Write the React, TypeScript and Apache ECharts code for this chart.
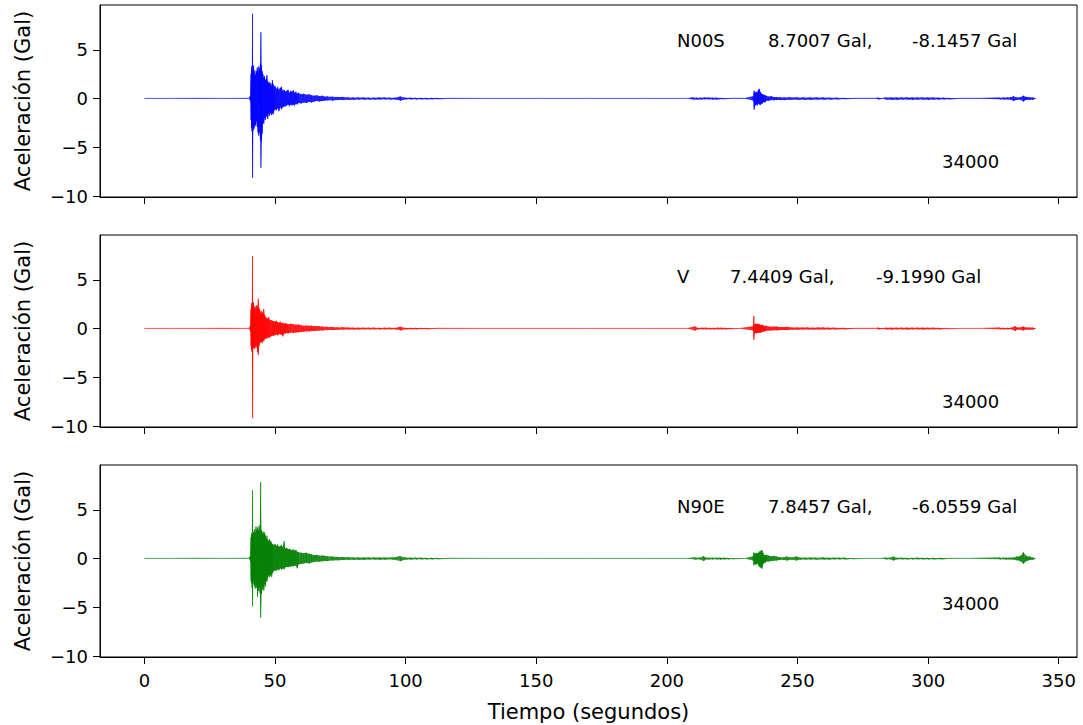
import React, { useEffect, useRef } from "react";
import * as echarts from "echarts";

type Env = [number, number, number][]; // [time (s), upper peak, lower peak] read from the record

const X_TICKS = [0, 50, 100, 150, 200, 250, 300, 350];
const Y_TICKS = [-10, -5, 0, 5];
const X_MIN = -17;
const X_MAX = 357;
const Y_MIN = -10.094;
const Y_MAX = 9.596;

const COMPONENTS = ["N00S", "V", "N90E"];
const PEAK_MAX = ["8.7007 Gal,", "7.4409 Gal,", "7.8457 Gal,"];
const PEAK_MIN = ["-8.1457 Gal", "-9.1990 Gal", "-6.0559 Gal"];
const STATION = ["34000", "34000", "34000"];
const COLORS = ["#0000ff", "#ff0000", "#008000"];

const N00S_ENV: Env = [
  [0, 0.02, -0.02], [10, 0.02, -0.02], [20, 0.03, -0.02], [30, 0.02, -0.03], [40, 0.03, -0.03],
  [40.6, 0.3, -0.3], [40.8, 2.5, -2.2], [41.0, 3.3, -3.0], [41.2, 2.8, -3.4], [41.4, 8.7007, -8.1457],
  [41.6, 3.0, -3.3], [41.8, 3.4, -2.9], [42.0, 2.6, -3.1], [42.3, 2.9, -2.6], [42.6, 2.4, -2.8],
  [42.9, 2.8, -2.3], [43.2, 3.2, -2.9], [43.5, 2.7, -3.5], [43.8, 3.3, -3.8], [44.1, 3.0, -3.4],
  [44.4, 3.6, -4.2], [44.6, 6.8, -7.1], [44.8, 3.4, -4.4], [45.1, 2.8, -3.6], [45.4, 2.5, -2.4],
  [45.7, 2.1, -2.6], [46.0, 2.3, -2.0], [46.3, 1.9, -2.2], [46.6, 2.0, -1.7], [46.9, 2.4, -1.9],
  [47.2, 1.8, -2.1], [47.5, 1.6, -1.5], [47.8, 1.7, -1.8], [48.1, 1.4, -1.6], [48.4, 1.6, -1.4],
  [48.7, 1.3, -1.7], [49.0, 1.9, -1.5], [49.3, 1.5, -1.6], [49.6, 1.2, -1.3], [50.0, 1.3, -1.1],
  [50.5, 1.0, -1.2], [51.0, 1.2, -1.0], [51.5, 0.9, -1.3], [52.0, 1.1, -0.9], [52.5, 1.2, -1.1],
  [53.0, 0.8, -0.9], [53.5, 0.9, -0.8], [54.0, 0.7, -0.8], [54.5, 0.8, -0.7], [55.0, 0.9, -0.6],
  [55.5, 0.6, -0.8], [56.0, 0.8, -0.6], [56.5, 0.7, -0.7], [57.0, 0.85, -0.6], [57.5, 0.6, -0.7],
  [58.0, 0.7, -0.5], [58.5, 0.5, -0.6], [59.0, 0.6, -0.45], [60, 0.45, -0.5], [61, 0.5, -0.4],
  [62, 0.4, -0.45], [63, 0.45, -0.35], [64, 0.35, -0.4], [65, 0.3, -0.3], [66, 0.35, -0.25],
  [67, 0.25, -0.3], [68, 0.3, -0.25], [69, 0.2, -0.22], [70, 0.22, -0.18], [72, 0.18, -0.2],
  [74, 0.15, -0.15], [76, 0.17, -0.14], [78, 0.12, -0.13], [80, 0.1, -0.12], [82, 0.11, -0.1],
  [84, 0.1, -0.1], [86, 0.09, -0.1], [88, 0.09, -0.1], [90, 0.1, -0.09], [92, 0.1, -0.08],
  [94, 0.09, -0.09], [96, 0.08, -0.09], [98, 0.2, -0.2], [100, 0.08, -0.08], [102, 0.08, -0.07],
  [104, 0.07, -0.08], [106, 0.07, -0.06], [108, 0.06, -0.06], [110, 0.05, -0.06], [112, 0.05, -0.05],
  [116, 0.03, -0.03], [130, 0.02, -0.02], [150, 0.02, -0.02], [170, 0.02, -0.02], [190, 0.02, -0.02],
  [208, 0.02, -0.02], [210, 0.1, -0.1], [211.5, 0.08, -0.09], [213, 0.08, -0.1], [214.5, 0.1, -0.08],
  [216, 0.1, -0.08], [217.5, 0.09, -0.1], [219, 0.09, -0.1], [220, 0.07, -0.07], [221, 0.06, -0.05],
  [225, 0.03, -0.03], [230, 0.03, -0.03], [233.0, 0.2, -0.2], [233.4, 0.8, -1.15], [233.8, 0.6, -0.7],
  [234.2, 0.7, -0.6], [234.6, 0.6, -0.7], [235.0, 0.9, -0.5], [235.4, 1.0, -0.6], [235.8, 0.7, -0.65],
  [236.2, 0.5, -0.5], [236.6, 0.45, -0.5], [237.0, 0.4, -0.35], [237.5, 0.35, -0.4], [238, 0.3, -0.25],
  [239, 0.2, -0.22], [240, 0.25, -0.15], [241, 0.16, -0.17], [242, 0.15, -0.15], [243.5, 0.13, -0.14],
  [245, 0.12, -0.14], [247, 0.13, -0.12], [250, 0.12, -0.12], [252.5, 0.11, -0.12], [255, 0.1, -0.11],
  [257.5, 0.11, -0.1], [260, 0.1, -0.1], [262.5, 0.09, -0.1], [265, 0.08, -0.08], [268, 0.05, -0.05],
  [272, 0.03, -0.03], [280, 0.03, -0.03], [281, 0.08, -0.08], [282.5, 0.03, -0.03], [284, 0.1, -0.1],
  [286, 0.1, -0.11], [288, 0.1, -0.12], [290, 0.11, -0.1], [292, 0.12, -0.1], [294, 0.1, -0.11],
  [296, 0.1, -0.1], [298, 0.11, -0.1], [300, 0.1, -0.11], [302, 0.1, -0.09], [304, 0.09, -0.1],
  [306, 0.08, -0.08], [308, 0.06, -0.06], [312, 0.03, -0.03], [320, 0.03, -0.03], [327.5, 0.08, -0.08],
  [329, 0.1, -0.09], [330.5, 0.1, -0.1], [331.7, 0.13, -0.12], [332.7, 0.25, -0.25], [334, 0.12, -0.12],
  [335.3, 0.14, -0.13], [336.5, 0.3, -0.3], [337.3, 0.18, -0.15], [338, 0.15, -0.12], [339, 0.13, -0.12],
  [340, 0.12, -0.12], [341, 0.05, -0.05],
];

const V_ENV: Env = [
  [0, 0.02, -0.02], [10, 0.02, -0.02], [20, 0.02, -0.03], [30, 0.03, -0.02], [40, 0.02, -0.02],
  [40.6, 0.3, -0.3], [40.8, 2.0, -1.8], [41.0, 2.6, -2.2], [41.2, 2.2, -2.4], [41.4, 7.4409, -9.199],
  [41.6, 2.4, -2.0], [41.8, 2.7, -1.9], [42.1, 2.1, -2.1], [42.4, 2.3, -1.8], [42.7, 1.9, -2.0],
  [43.0, 2.4, -1.7], [43.3, 2.2, -2.4], [43.6, 3.05, -2.7], [43.9, 2.1, -1.8], [44.2, 1.9, -1.5],
  [44.5, 1.6, -1.4], [44.8, 1.8, -1.3], [45.1, 1.5, -1.5], [45.4, 1.7, -1.2], [45.7, 2.0, -1.3],
  [46.0, 1.4, -1.1], [46.4, 1.2, -1.0], [46.8, 1.1, -1.05], [47.2, 1.0, -0.9], [47.6, 1.15, -0.95],
  [48.0, 0.9, -0.9], [48.5, 0.85, -0.8], [49.0, 0.8, -0.7], [49.5, 0.75, -0.75], [50.0, 0.7, -0.65],
  [50.5, 0.8, -0.6], [51.0, 0.65, -0.7], [51.5, 0.6, -0.55], [52.0, 0.7, -0.6], [52.5, 0.55, -0.6],
  [53.0, 0.6, -0.8], [53.5, 0.5, -0.5], [54.0, 0.55, -0.5], [54.5, 0.5, -0.45], [55.0, 0.45, -0.5],
  [56, 0.5, -0.4], [57, 0.45, -0.45], [58, 0.4, -0.4], [59, 0.42, -0.38], [60, 0.35, -0.35],
  [61, 0.3, -0.32], [62, 0.32, -0.28], [63, 0.28, -0.3], [64, 0.3, -0.25], [65, 0.25, -0.25],
  [66, 0.27, -0.22], [67, 0.22, -0.2], [68, 0.2, -0.2], [70, 0.17, -0.15], [72, 0.15, -0.14],
  [74, 0.12, -0.12], [76, 0.13, -0.1], [78, 0.1, -0.1], [80, 0.09, -0.09], [82, 0.08, -0.09],
  [84, 0.09, -0.08], [86, 0.08, -0.08], [88, 0.08, -0.07], [90, 0.07, -0.08], [92, 0.08, -0.07],
  [94, 0.08, -0.07], [96, 0.07, -0.08], [98, 0.18, -0.18], [100, 0.07, -0.07], [102, 0.07, -0.06],
  [104, 0.06, -0.06], [106, 0.06, -0.05], [108, 0.05, -0.05], [112, 0.03, -0.03], [130, 0.02, -0.02],
  [150, 0.02, -0.02], [170, 0.02, -0.02], [190, 0.02, -0.02], [208, 0.02, -0.02], [210.8, 0.2, -0.2],
  [212, 0.07, -0.07], [213.5, 0.08, -0.07], [215, 0.08, -0.07], [216.5, 0.07, -0.08], [218, 0.07, -0.08],
  [219.5, 0.08, -0.07], [221, 0.08, -0.07], [222.5, 0.07, -0.06], [224, 0.05, -0.05], [228, 0.02, -0.02],
  [233.0, 0.2, -0.2], [233.3, 1.3, -1.15], [233.6, 0.4, -0.5], [234.0, 0.5, -0.45], [234.4, 0.45, -0.5],
  [234.8, 0.5, -0.4], [235.2, 0.48, -0.45], [235.6, 0.4, -0.42], [236.0, 0.35, -0.4], [236.5, 0.4, -0.35],
  [237.0, 0.3, -0.3], [237.5, 0.25, -0.28], [238.0, 0.3, -0.25], [239, 0.2, -0.2], [240, 0.18, -0.2],
  [241, 0.2, -0.17], [242, 0.2, -0.18], [243, 0.16, -0.17], [244, 0.15, -0.15], [245, 0.16, -0.14],
  [246, 0.18, -0.15], [248, 0.1, -0.1], [250, 0.1, -0.11], [252, 0.1, -0.1], [254, 0.11, -0.09],
  [256, 0.09, -0.1], [258, 0.1, -0.1], [260, 0.1, -0.09], [262, 0.09, -0.09], [264, 0.08, -0.08],
  [268, 0.06, -0.06], [272, 0.03, -0.03], [280, 0.03, -0.03], [281, 0.08, -0.08], [282.5, 0.04, -0.04],
  [284, 0.08, -0.08], [286, 0.08, -0.09], [288, 0.09, -0.08], [290, 0.08, -0.08], [292, 0.08, -0.09],
  [294, 0.09, -0.08], [296, 0.09, -0.08], [298, 0.08, -0.09], [300, 0.08, -0.08], [302, 0.08, -0.07],
  [304, 0.07, -0.07], [307, 0.04, -0.04], [312, 0.02, -0.02], [320, 0.02, -0.02], [327.5, 0.08, -0.08],
  [329, 0.07, -0.07], [330.5, 0.07, -0.08], [332, 0.09, -0.08], [333.3, 0.25, -0.25], [334.2, 0.1, -0.1],
  [335, 0.1, -0.1], [336.5, 0.2, -0.2], [337.3, 0.12, -0.1], [338, 0.1, -0.1], [339, 0.1, -0.11],
  [340, 0.1, -0.1], [341, 0.04, -0.04],
];

const N90E_ENV: Env = [
  [0, 0.02, -0.02], [10, 0.02, -0.02], [20, 0.03, -0.02], [30, 0.02, -0.02], [40, 0.03, -0.03],
  [40.6, 0.3, -0.3], [40.8, 2.2, -2.3], [41.0, 2.6, -2.5], [41.2, 2.3, -3.0], [41.4, 7.0, -4.9],
  [41.6, 2.4, -2.6], [41.8, 2.7, -2.3], [42.1, 3.0, -2.8], [42.4, 2.6, -3.1], [42.7, 3.3, -2.7],
  [43.0, 2.9, -3.0], [43.3, 3.2, -3.9], [43.6, 2.8, -3.3], [43.9, 3.4, -2.9], [44.2, 3.0, -3.5],
  [44.5, 7.8457, -6.0559], [44.8, 2.9, -3.6], [45.1, 2.6, -3.2], [45.4, 2.8, -2.9], [45.7, 2.5, -3.3],
  [46.0, 2.7, -2.6], [46.3, 2.4, -2.9], [46.6, 2.0, -2.2], [46.9, 2.35, -2.4], [47.2, 1.9, -2.0],
  [47.5, 1.8, -1.7], [47.8, 2.0, -1.9], [48.1, 1.7, -1.8], [48.4, 1.8, -1.6], [48.7, 1.6, -1.9],
  [49.0, 1.5, -1.5], [49.5, 1.4, -1.3], [50.0, 1.5, -1.2], [50.5, 1.3, -1.25], [51.0, 1.45, -1.1],
  [51.5, 1.2, -1.2], [52.0, 1.3, -1.0], [52.5, 1.4, -1.15], [53.0, 1.15, -1.0], [53.5, 1.8, -1.1],
  [54.0, 1.0, -0.9], [54.5, 1.1, -0.85], [55.0, 0.95, -0.9], [55.5, 1.0, -0.8], [56.0, 0.9, -0.85],
  [56.5, 0.85, -0.75], [57.0, 0.95, -0.8], [57.5, 0.8, -0.7], [58.0, 0.9, -0.75], [58.5, 0.7, -1.0],
  [59.0, 0.65, -0.6], [60, 0.6, -0.55], [61, 0.55, -0.5], [62, 0.6, -0.45], [63, 0.5, -0.5],
  [64, 0.45, -0.4], [65, 0.35, -0.35], [66, 0.38, -0.3], [67, 0.3, -0.32], [68, 0.32, -0.28],
  [69, 0.28, -0.25], [70, 0.25, -0.25], [72, 0.2, -0.2], [74, 0.17, -0.18], [76, 0.15, -0.14],
  [78, 0.13, -0.12], [80, 0.12, -0.12], [82, 0.11, -0.12], [84, 0.1, -0.11], [86, 0.11, -0.1],
  [88, 0.11, -0.1], [90, 0.1, -0.11], [92, 0.1, -0.1], [95, 0.12, -0.1], [98, 0.25, -0.25],
  [100, 0.1, -0.1], [102, 0.09, -0.09], [104, 0.09, -0.08], [106, 0.08, -0.08], [108, 0.07, -0.07],
  [110, 0.06, -0.06], [112, 0.05, -0.05], [116, 0.03, -0.03], [130, 0.02, -0.02], [150, 0.02, -0.02],
  [170, 0.02, -0.02], [190, 0.02, -0.02], [208, 0.02, -0.02], [210.8, 0.1, -0.1], [212.5, 0.08, -0.08],
  [214.1, 0.25, -0.25], [215, 0.09, -0.08], [216, 0.08, -0.09], [217.5, 0.08, -0.08], [219, 0.09, -0.08],
  [220.5, 0.08, -0.09], [222, 0.08, -0.08], [223.5, 0.06, -0.06], [225, 0.04, -0.04], [230, 0.02, -0.02],
  [233.0, 0.2, -0.2], [233.3, 0.64, -0.7], [233.7, 0.5, -0.55], [234.1, 0.55, -0.6], [234.5, 0.6, -0.5],
  [234.9, 0.5, -0.6], [235.3, 0.7, -0.8], [235.7, 0.75, -0.9], [236.1, 0.8, -0.95], [236.4, 0.88, -1.04],
  [236.8, 0.6, -0.6], [237.2, 0.4, -0.45], [237.7, 0.35, -0.4], [238.2, 0.4, -0.3], [239, 0.3, -0.3],
  [240, 0.25, -0.25], [241, 0.28, -0.22], [242, 0.2, -0.2], [243, 0.15, -0.15], [244.5, 0.12, -0.12],
  [246, 0.2, -0.2], [247.5, 0.12, -0.1], [249.6, 0.2, -0.2], [251, 0.1, -0.1], [253, 0.09, -0.1],
  [255, 0.1, -0.09], [257, 0.09, -0.1], [260, 0.1, -0.09], [262, 0.08, -0.09], [264, 0.09, -0.08],
  [266, 0.08, -0.08], [268, 0.08, -0.08], [271, 0.04, -0.04], [275, 0.02, -0.02], [282, 0.02, -0.02],
  [284, 0.08, -0.08], [285.5, 0.08, -0.07], [286.7, 0.2, -0.2], [288, 0.08, -0.08], [290, 0.08, -0.07],
  [292, 0.07, -0.08], [294, 0.07, -0.07], [296, 0.08, -0.07], [298, 0.07, -0.08], [300, 0.07, -0.07],
  [302, 0.07, -0.06], [305, 0.06, -0.06], [308, 0.03, -0.03], [315, 0.02, -0.02], [327.5, 0.08, -0.08],
  [329, 0.09, -0.08], [330, 0.09, -0.09], [331, 0.08, -0.09], [332, 0.1, -0.1], [333, 0.12, -0.11],
  [334, 0.2, -0.18], [334.8, 0.22, -0.2], [335.5, 0.3, -0.3], [336.5, 0.64, -0.54], [337.5, 0.3, -0.28],
  [338.2, 0.22, -0.2], [339, 0.2, -0.15], [340, 0.12, -0.12], [341, 0.04, -0.04],
];

const ENVELOPES = [N00S_ENV, V_ENV, N90E_ENV];

// layout (pixels)
const GRID_TOPS = [5, 235, 465];
const GRID_H = 192;
const GRID_LEFT = 100;
const GRID_RIGHT = 6;
const FONT = "DejaVu Sans";
const TICK_FS = 18;
const NAME_FS = 21;
const NOTE_FS = 18;
const NOTE_ROW_Y = [42, 278, 508];
const NOTE_COUNT_Y = [163, 403, 605];
const NOTE_NAME_X = [677, 677, 677];
const NOTE_MAX_X = [768, 730, 768];
const NOTE_MIN_X = [912, 876, 912];
const NOTE_COUNT_X = [942, 942, 942];

function trace(env: Env): [number, number][] {
  const out: [number, number][] = [];
  for (const [t, up, lo] of env) {
    out.push([t, up]);
    out.push([t, lo]);
  }
  return out;
}

const fmtY = (v: number) => (v < 0 ? "\u2212" + Math.abs(v) : String(v));

export default function App() {
  const ref = useRef<HTMLDivElement>(null);
  useEffect(() => {
    if (!ref.current) return;
    const chart = echarts.init(ref.current, null, { renderer: "svg" });
    const grids: any[] = [];
    const xAxes: any[] = [];
    const yAxes: any[] = [];
    const series: any[] = [];
    const graphics: any[] = [];
    for (let i = 0; i < 3; i++) {
      grids.push({
        left: GRID_LEFT,
        right: GRID_RIGHT,
        top: GRID_TOPS[i],
        height: GRID_H,
        show: true,
        borderColor: "#000",
        borderWidth: 1,
        backgroundColor: "transparent",
      });
      const last = i === 2;
      xAxes.push({
        type: "value",
        gridIndex: i,
        min: X_MIN,
        max: X_MAX,
        splitLine: { show: false },
        axisLine: { show: true, onZero: false, lineStyle: { color: "#000", width: 1 } },
        axisTick: { show: true, length: 7, customValues: X_TICKS, lineStyle: { color: "#000", width: 1 } },
        axisLabel: {
          show: last,
          customValues: X_TICKS,
          margin: 14,
          color: "#000",
          fontFamily: FONT,
          fontSize: TICK_FS,
        },
        name: last ? "Tiempo (segundos)" : "",
        nameLocation: "middle",
        nameGap: 44,
        nameTextStyle: { color: "#000", fontFamily: FONT, fontSize: NAME_FS },
      });
      yAxes.push({
        type: "value",
        gridIndex: i,
        min: Y_MIN,
        max: Y_MAX,
        splitLine: { show: false },
        axisLine: { show: true, onZero: false, lineStyle: { color: "#000", width: 1 } },
        axisTick: { show: true, length: 7, customValues: Y_TICKS, lineStyle: { color: "#000", width: 1 } },
        axisLabel: {
          customValues: Y_TICKS,
          formatter: fmtY,
          margin: 12,
          color: "#000",
          fontFamily: FONT,
          fontSize: TICK_FS,
        },
        name: "Aceleración (Gal)",
        nameLocation: "middle",
        nameRotate: 90,
        nameGap: 67,
        nameTextStyle: { color: "#000", fontFamily: FONT, fontSize: NAME_FS },
      });
      const env = ENVELOPES[i];
      const color = COLORS[i];
      // filled envelope band, drawn through the axis scales
      series.push({
        type: "custom",
        coordinateSystem: "cartesian2d",
        xAxisIndex: i,
        yAxisIndex: i,
        silent: true,
        clip: true,
        data: [[env[0][0], 0]],
        encode: { x: 0, y: 1 },
        renderItem: (_params: any, api: any) => {
          const upper = env.map(([t, up]) => api.coord([t, up]));
          const lower = env.slice().reverse().map(([t, , lo]) => api.coord([t, lo]));
          return {
            type: "polygon",
            shape: { points: upper.concat(lower) },
            style: { fill: color, opacity: 0.8 },
          };
        },
        z: 1,
      });
      // oscillating trace
      series.push({
        type: "line",
        name: COMPONENTS[i],
        xAxisIndex: i,
        yAxisIndex: i,
        data: trace(env),
        showSymbol: false,
        symbol: "none",
        silent: true,
        lineStyle: { color, width: 0.6 },
        z: 2,
      });
      const ts = { fill: "#000", font: `${NOTE_FS}px "${FONT}"` };
      graphics.push({ type: "text", left: NOTE_NAME_X[i], top: NOTE_ROW_Y[i] - 11, style: { ...ts, text: COMPONENTS[i] } });
      graphics.push({ type: "text", left: NOTE_MAX_X[i], top: NOTE_ROW_Y[i] - 11, style: { ...ts, text: PEAK_MAX[i] } });
      graphics.push({ type: "text", left: NOTE_MIN_X[i], top: NOTE_ROW_Y[i] - 11, style: { ...ts, text: PEAK_MIN[i] } });
      graphics.push({ type: "text", left: NOTE_COUNT_X[i], top: NOTE_COUNT_Y[i] - 11, style: { ...ts, text: STATION[i] } });
    }
    chart.setOption({
      animation: false,
      backgroundColor: "#fff",
      textStyle: { fontFamily: FONT },
      grid: grids,
      xAxis: xAxes,
      yAxis: yAxes,
      series,
      graphic: graphics,
    });
    return () => chart.dispose();
  }, []);
  return (
    <div
      ref={ref}
      style={{ position: "fixed", left: 0, top: 0, width: 1083, height: 725, background: "#fff" }}
    />
  );
}
